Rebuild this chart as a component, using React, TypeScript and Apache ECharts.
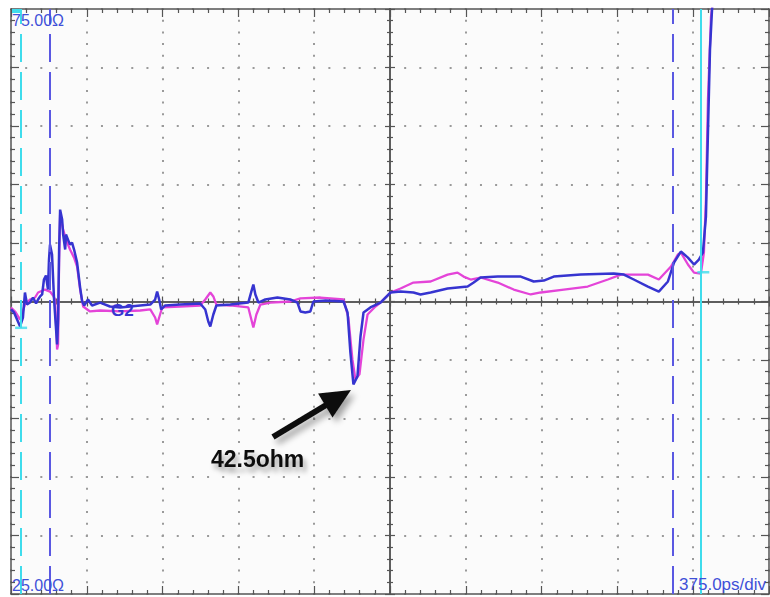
import React, { useEffect, useRef } from "react";
import * as echarts from "echarts";

// Axis ranges (time in ps, impedance in ohm)
const X_MIN = 0;
const X_MAX = 3750;
const X_DIV = 375;
const Y_MIN = 25;
const Y_MAX = 75;
const Y_DIV = 5;

// Blue trace (TDR impedance)
const blueTimePs = [0,15,30,45,59,69,79,94,109,124,134,144,154,163,173,183,188,193,203,213,223,228,233,238,243,253,258,268,272,282,292,302,312,327,342,352,362,381,401,441,490,540,590,639,689,713,723,733,743,763,837,936,961,976,986,1001,1016,1085,1174,1189,1199,1209,1224,1258,1318,1382,1417,1432,1456,1481,1496,1556,1645,1665,1679,1694,1714,1729,1744,1778,1828,1878,1927,1991,2026,2076,2160,2259,2289,2323,2408,2522,2586,2636,2685,2819,2982,3032,3081,3151,3205,3250,3280,3314,3349,3379,3403,3423,3438,3448,3458,3468,3475];
const blueOhms = [49.32,49.06,48.46,47.87,48.63,50.77,49.74,49.91,50.34,49.83,50.17,50.43,50.6,51.88,52.22,51.02,53.58,54.86,54.01,50.17,47.61,46.33,48.46,54.44,57.85,57.0,55.72,54.44,55.72,55.29,54.86,55.03,54.44,53.33,51.19,50.0,49.66,50.17,49.66,49.91,49.57,49.49,49.57,49.66,49.74,50.17,50.85,50.17,49.32,49.66,49.74,49.83,49.32,48.29,47.87,48.89,49.66,49.74,49.91,50.85,51.45,50.6,49.91,50.17,50.34,50.17,49.91,49.15,49.06,49.15,50.0,50.09,50.0,49.06,45.65,42.92,43.6,47.01,49.06,49.49,49.91,50.77,50.85,50.77,50.6,50.77,51.11,51.28,51.62,52.05,52.13,52.13,51.71,51.79,52.13,52.3,52.39,52.3,51.88,51.28,50.85,51.71,53.33,54.27,53.75,53.16,53.58,54.18,57.25,64.42,71.5,74.91,76.5];

// Magenta trace
const magentaTimePs = [0,20,45,69,94,119,134,168,193,208,218,228,233,238,243,258,272,292,312,327,342,357,391,441,540,639,689,713,723,733,748,837,936,961,986,1001,1016,1085,1174,1189,1199,1214,1234,1283,1382,1432,1531,1645,1669,1689,1704,1724,1744,1764,1803,1828,1878,1927,1991,2076,2160,2209,2239,2274,2323,2408,2487,2571,2621,2735,2853,2953,3017,3081,3151,3205,3265,3299,3314,3349,3379,3413,3428,3438,3448,3463,3473];
const magentaOhms = [49.49,49.15,48.46,49.74,50.17,50.34,50.77,51.02,50.85,50.51,50.17,45.9,46.33,53.58,57.42,56.14,55.29,54.44,53.75,52.99,51.02,49.57,49.15,49.23,49.15,49.23,49.32,48.63,48.04,48.63,49.49,49.57,49.66,50.17,50.77,50.43,49.74,49.66,49.49,48.46,47.78,48.89,49.74,49.91,50.0,50.26,50.34,50.17,48.63,45.05,43.35,43.77,46.76,48.89,49.57,49.91,50.77,51.11,51.62,51.71,52.3,52.47,52.13,51.88,52.05,51.62,51.02,50.6,50.77,51.02,51.28,51.88,52.3,52.3,52.3,51.88,52.99,54.01,54.18,53.16,52.47,52.39,54.18,58.7,67.23,74.32,75.8];

// Cursors (time positions, ps)
const cursorTimesPs = [49, 193, 3275, 3413];
const cursorKinds = ["cyanDashed", "blueDashed", "blueDashed", "cyanSolid"];
// Cursor crossing markers [ps, ohm]
const cursorMarkerPs = [50, 3425];
const cursorMarkerOhms = [47.75, 52.5];

// Texts
const topLabel = "75.00Ω";
const bottomLabel = "25.00Ω";
const scaleLabel = "375.0ps/div";
const traceLabel = "G2";
const annotationLabel = "42.5ohm";

const BLUE = "#3634d0";
const MAGENTA = "#e444d8";
const CYAN = "#3fdcec";
const CURSOR_BLUE = "#5a58e2";
const FRAME = "#555";
const LABEL_BLUE = "#3f50d8";
const FONT = 'Arial, "Liberation Sans", sans-serif';

const GRID = { left: 11, top: 9, width: 758, height: 585 };

function zip(a: number[], b: number[]) {
  const n = Math.min(a.length, b.length);
  const out: number[][] = [];
  for (let i = 0; i < n; i++) out.push([a[i], b[i]]);
  return out;
}

function xAxisDef(position: string, offset: number, inside: boolean, opts: any) {
  return {
    type: "value",
    min: X_MIN,
    max: X_MAX,
    interval: X_DIV,
    position,
    offset,
    axisLine: { show: opts.line !== false, onZero: false, lineStyle: { color: FRAME, width: 1.5 } },
    axisTick: { show: true, inside, length: opts.tick, lineStyle: { color: FRAME, width: 1.2 } },
    minorTick: { show: true, splitNumber: 5, length: opts.minor, lineStyle: { color: FRAME, width: 1.2 } },
    axisLabel: { show: false },
    splitLine: opts.split
      ? { show: true, lineStyle: { color: "#9a9a9a", width: 2, type: [2, 9.7], dashOffset: 1 } }
      : { show: false },
  };
}

function yAxisDef(position: string, offset: number, inside: boolean, opts: any) {
  return {
    type: "value",
    min: Y_MIN,
    max: Y_MAX,
    interval: Y_DIV,
    position,
    offset,
    axisLine: { show: opts.line !== false, onZero: false, lineStyle: { color: FRAME, width: 1.5 } },
    axisTick: { show: true, inside, length: opts.tick, lineStyle: { color: FRAME, width: 1.2 } },
    minorTick: { show: true, splitNumber: 5, length: opts.minor, lineStyle: { color: FRAME, width: 1.2 } },
    axisLabel: { show: false },
    splitLine: opts.split
      ? { show: true, lineStyle: { color: "#9a9a9a", width: 2, type: [2, 13.16], dashOffset: 1 } }
      : { show: false },
  };
}

function cursorLineStyle(kind: string) {
  if (kind === "cyanDashed") return { color: CYAN, width: 2, type: [28, 10] };
  if (kind === "cyanSolid") return { color: CYAN, width: 2, type: "solid" };
  return { color: CURSOR_BLUE, width: 2, type: [28, 10] };
}

export default function App() {
  const ref = useRef<HTMLDivElement>(null);

  useEffect(() => {
    const chart = echarts.init(ref.current!, null, { renderer: "svg" });

    // arrow geometry (annotation)
    const tail = [273, 437];
    const tip = [351, 390];
    const dx = tip[0] - tail[0];
    const dy = tip[1] - tail[1];
    const len = Math.sqrt(dx * dx + dy * dy);
    const ux = dx / len;
    const uy = dy / len;
    const headLen = 30;
    const headHalf = 14;
    const bx = tip[0] - ux * headLen;
    const by = tip[1] - uy * headLen;
    const nx = -uy;
    const ny = ux;
    const shadow = { shadowBlur: 6, shadowOffsetX: 4, shadowOffsetY: 5, shadowColor: "rgba(0,0,0,0.35)" };

    const centerXOffset = -(GRID.height / 2); // bottom -> centre
    const centerYOffset = -(GRID.width / 2); // left -> centre

    const option: any = {
      animation: false,
      backgroundColor: "#ffffff",
      grid: {
        left: GRID.left,
        top: GRID.top,
        width: GRID.width,
        height: GRID.height,
        show: true,
        backgroundColor: "#fbfbfb",
        borderWidth: 0,
      },
      xAxis: [
        xAxisDef("bottom", 0, true, { tick: 8, minor: 4, split: true }),
        xAxisDef("top", 0, true, { tick: 8, minor: 4, split: false }),
        xAxisDef("bottom", centerXOffset, true, { tick: 5, minor: 3, split: false }),
        xAxisDef("bottom", centerXOffset, false, { tick: 5, minor: 3, split: false }),
      ],
      yAxis: [
        yAxisDef("left", 0, true, { tick: 8, minor: 4, split: true }),
        yAxisDef("right", 0, true, { tick: 8, minor: 4, split: false }),
        yAxisDef("left", centerYOffset, true, { tick: 5, minor: 3, split: false }),
        yAxisDef("left", centerYOffset, false, { tick: 5, minor: 3, split: false }),
      ],
      series: [
        {
          type: "line",
          xAxisIndex: 0,
          yAxisIndex: 0,
          data: [],
          z: 1,
          markLine: {
            silent: true,
            symbol: ["none", "none"],
            label: { show: false },
            animation: false,
            data: cursorTimesPs.map((t, i) => ({ xAxis: t, lineStyle: cursorLineStyle(cursorKinds[i]) })),
          },
        },
        {
          type: "line",
          name: "magenta",
          xAxisIndex: 0,
          yAxisIndex: 0,
          data: zip(magentaTimePs, magentaOhms),
          showSymbol: false,
          symbol: "none",
          clip: true,
          z: 2,
          lineStyle: { color: MAGENTA, width: 2.3 },
          itemStyle: { color: MAGENTA },
        },
        {
          type: "line",
          name: "blue",
          xAxisIndex: 0,
          yAxisIndex: 0,
          data: zip(blueTimePs, blueOhms),
          showSymbol: false,
          symbol: "none",
          clip: true,
          z: 3,
          lineStyle: { color: BLUE, width: 2.5 },
          itemStyle: { color: BLUE },
        },
        {
          type: "scatter",
          xAxisIndex: 0,
          yAxisIndex: 0,
          data: zip(cursorMarkerPs, cursorMarkerOhms),
          symbol: "rect",
          symbolSize: [12, 2.5],
          itemStyle: { color: CYAN },
          z: 4,
          silent: true,
        },
      ],
      graphic: [
        { type: "rect", shape: { x: 12, y: 9, width: 9, height: 4 }, style: { fill: CYAN }, z: 10 },
        {
          type: "text",
          x: 12,
          y: 12,
          z: 10,
          style: { text: topLabel, font: `16px ${FONT}`, fill: LABEL_BLUE },
        },
        {
          type: "text",
          x: 12,
          y: 577,
          z: 10,
          style: { text: bottomLabel, font: `16px ${FONT}`, fill: LABEL_BLUE },
        },
        {
          type: "text",
          x: 766,
          y: 576,
          z: 10,
          style: { text: scaleLabel, font: `17px ${FONT}`, fill: LABEL_BLUE, textAlign: "right" },
        },
        {
          type: "text",
          x: 111,
          y: 302,
          z: 10,
          style: { text: traceLabel, font: `bold 17px ${FONT}`, fill: BLUE },
        },
        {
          type: "line",
          z: 10,
          shape: { x1: tail[0], y1: tail[1], x2: bx + ux * 2, y2: by + uy * 2 },
          style: { stroke: "#111", lineWidth: 6, ...shadow },
        },
        {
          type: "polygon",
          z: 10,
          shape: {
            points: [
              [tip[0], tip[1]],
              [bx + nx * headHalf, by + ny * headHalf],
              [bx - nx * headHalf, by - ny * headHalf],
            ],
          },
          style: { fill: "#111", ...shadow },
        },
        {
          type: "text",
          x: 211,
          y: 447,
          z: 10,
          style: {
            text: annotationLabel,
            font: `bold 23px ${FONT}`,
            fill: "#111",
            textShadowBlur: 5,
            textShadowOffsetX: 3,
            textShadowOffsetY: 5,
            textShadowColor: "rgba(0,0,0,0.35)",
          },
        },
      ],
    };

    chart.setOption(option);
    return () => chart.dispose();
  }, []);

  return (
    <div
      ref={ref}
      style={{ position: "fixed", left: 0, top: 0, width: 770, height: 597, background: "#fff" }}
    />
  );
}
